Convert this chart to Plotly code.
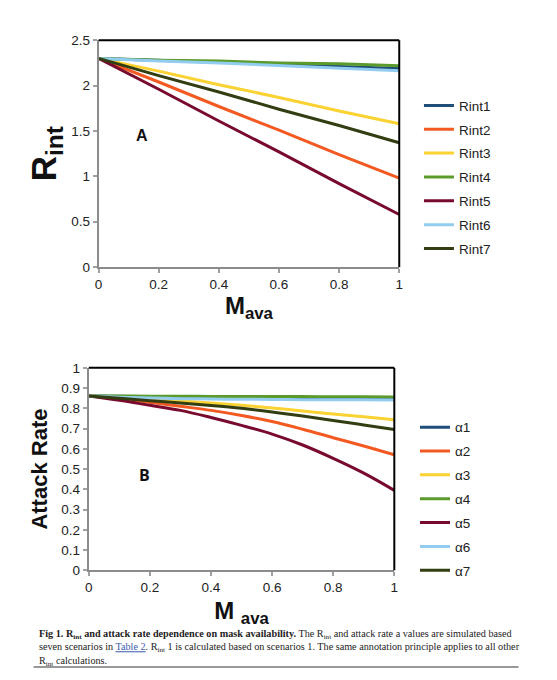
import plotly.graph_objects as go

# --- data ---
mava = [0, 0.2, 0.4, 0.6, 0.8, 1.0]
rint_names = ["Rint1", "Rint2", "Rint3", "Rint4", "Rint5", "Rint6", "Rint7"]
rint1 = [2.30, 2.28, 2.26, 2.24, 2.21, 2.19]
rint2 = [2.30, 2.04, 1.77, 1.51, 1.24, 0.98]
rint3 = [2.30, 2.16, 2.01, 1.87, 1.72, 1.58]
rint4 = [2.30, 2.28, 2.27, 2.25, 2.24, 2.22]
rint5 = [2.30, 1.96, 1.61, 1.27, 0.92, 0.58]
rint6 = [2.30, 2.27, 2.25, 2.22, 2.19, 2.165]
rint7 = [2.30, 2.11, 1.93, 1.74, 1.56, 1.37]

mava_b = [0, 0.1, 0.2, 0.3, 0.4, 0.5, 0.6, 0.7, 0.8, 0.9, 1.0]
alpha_names = ["α1", "α2", "α3", "α4", "α5", "α6", "α7"]
alpha1 = [0.861, 0.860, 0.858, 0.857, 0.855, 0.854, 0.853, 0.852, 0.851, 0.850, 0.849]
alpha2 = [0.861, 0.848, 0.830, 0.810, 0.790, 0.765, 0.735, 0.697, 0.655, 0.614, 0.571]
alpha3 = [0.861, 0.853, 0.844, 0.836, 0.826, 0.815, 0.802, 0.787, 0.772, 0.758, 0.744]
alpha4 = [0.861, 0.861, 0.860, 0.860, 0.859, 0.859, 0.858, 0.858, 0.857, 0.857, 0.856]
alpha5 = [0.861, 0.840, 0.815, 0.790, 0.755, 0.716, 0.673, 0.619, 0.553, 0.480, 0.395]
alpha6 = [0.861, 0.855, 0.851, 0.848, 0.846, 0.845, 0.844, 0.843, 0.842, 0.842, 0.841]
alpha7 = [0.861, 0.850, 0.838, 0.826, 0.814, 0.800, 0.782, 0.762, 0.740, 0.718, 0.695]

colors = ["#1F4E79", "#F35A22", "#FAD232", "#5B9B2B", "#780A2D", "#92CDF0", "#323E12"]

W, H = 557, 680
SANS = "Liberation Sans, Arial, sans-serif"
SERIF = "Liberation Serif, Times New Roman, serif"

fig = go.Figure()

for name, ys, c in zip(rint_names, [rint1, rint2, rint3, rint4, rint5, rint6, rint7], colors):
    fig.add_trace(go.Scatter(x=mava, y=ys, mode="lines", name=name,
                             line=dict(color=c, width=3), xaxis="x", yaxis="y",
                             legend="legend", legendgroup=name))

for name, ys, c in zip(alpha_names, [alpha1, alpha2, alpha3, alpha4, alpha5, alpha6, alpha7], colors):
    fig.add_trace(go.Scatter(x=mava_b, y=ys, mode="lines", name=name,
                             line=dict(color=c, width=3, shape="spline"), xaxis="x2", yaxis="y2",
                             legend="legend2", legendgroup=name))

axis_style = dict(showline=True, linecolor="#8c8c8c", linewidth=2, ticks="outside",
                  ticklen=4, tickcolor="#a0a0a0", tickwidth=1.5, showgrid=False,
                  zeroline=False, tickfont=dict(family=SANS, size=13.5, color="#222"))

legend_style = dict(xanchor="left", yanchor="top", itemwidth=30, tracegroupgap=3.3,
                    font=dict(family=SANS, size=13.5, color="#222"), bgcolor="rgba(0,0,0,0)")

fig.update_layout(
    width=W, height=H,
    margin=dict(l=0, r=0, t=0, b=0),
    paper_bgcolor="white", plot_bgcolor="white",
    xaxis=dict(domain=[96 / W, 401 / W], range=[0, 1], dtick=0.2, anchor="y",
               title=dict(text="<b>M<sub>ava</sub></b>", font=dict(family=SANS, size=24, color="#111"),
                          standoff=6),
               **axis_style),
    yaxis=dict(domain=[1 - 266 / H, 1 - 34 / H], range=[0, 2.5], dtick=0.5, anchor="x",
               title=dict(text="<b>R<sub>int</sub></b>", font=dict(family=SANS, size=35, color="#111"),
                          standoff=4),
               **axis_style),
    xaxis2=dict(domain=[86 / W, 396 / W], range=[0, 1], dtick=0.2, anchor="y2",
                title=dict(text="<b>M <sub>ava</sub></b>", font=dict(family=SANS, size=24, color="#111"),
                           standoff=8),
                **axis_style),
    yaxis2=dict(domain=[1 - 576 / H, 1 - 369 / H], range=[0, 1], dtick=0.1, anchor="x2",
                title=dict(text="<b>Attack Rate</b>", font=dict(family=SANS, size=22, color="#111"),
                           standoff=8),
                **axis_style),
    legend=dict(x=421 / W, y=1 - 85 / H, **legend_style),
    legend2=dict(x=417 / W, y=1 - 414 / H, **legend_style),
    shapes=[
        # black top/right frame of each plot
        dict(type="line", xref="x domain", yref="y domain", x0=0, x1=1, y0=1, y1=1,
             line=dict(color="black", width=2)),
        dict(type="line", xref="x domain", yref="y domain", x0=1, x1=1, y0=0, y1=1,
             line=dict(color="black", width=2)),
        dict(type="line", xref="x2 domain", yref="y2 domain", x0=0, x1=1, y0=1, y1=1,
             line=dict(color="black", width=2)),
        dict(type="line", xref="x2 domain", yref="y2 domain", x0=1, x1=1, y0=0, y1=1,
             line=dict(color="black", width=2)),
        # rule under the caption
        dict(type="line", xref="paper", yref="paper", x0=30 / W, x1=522 / W,
             y0=1 - 675 / H, y1=1 - 675 / H, line=dict(color="#999", width=2)),
    ],
    annotations=[
        dict(text="<b>A</b>", x=0.144, y=1.45, xref="x", yref="y", showarrow=False,
             font=dict(family=SANS, size=16, color="#111")),
        dict(text="<b>B</b>", x=0.184, y=0.47, xref="x2", yref="y2", showarrow=False,
             font=dict(family="Open Sans, sans-serif", size=16, color="#111")),
        dict(text="<b>Fig 1. R<sub>int</sub> and attack rate dependence on mask availability.</b> "
                  "The R<sub>int</sub> and attack rate a values are simulated based<br>"
                  "seven scenarios in <span style='color:#3a5da8'><u>Table 2</u></span>. "
                  "R<sub>int</sub> 1 is calculated based on scenarios 1. "
                  "The same annotation principle applies to all other<br>"
                  "R<sub>int</sub> calculations.",
             x=33 / W, y=1 - 633 / H, xref="paper", yref="paper", xanchor="left", yanchor="top",
             align="left", showarrow=False, font=dict(family=SERIF, size=10.2, color="#222")),
    ],
)

# page body has an 8px default margin; drop it so the figure sits at the window origin
fig.write_html("out.html", config={"displayModeBar": False},
               post_script="document.body.style.margin='0';")
